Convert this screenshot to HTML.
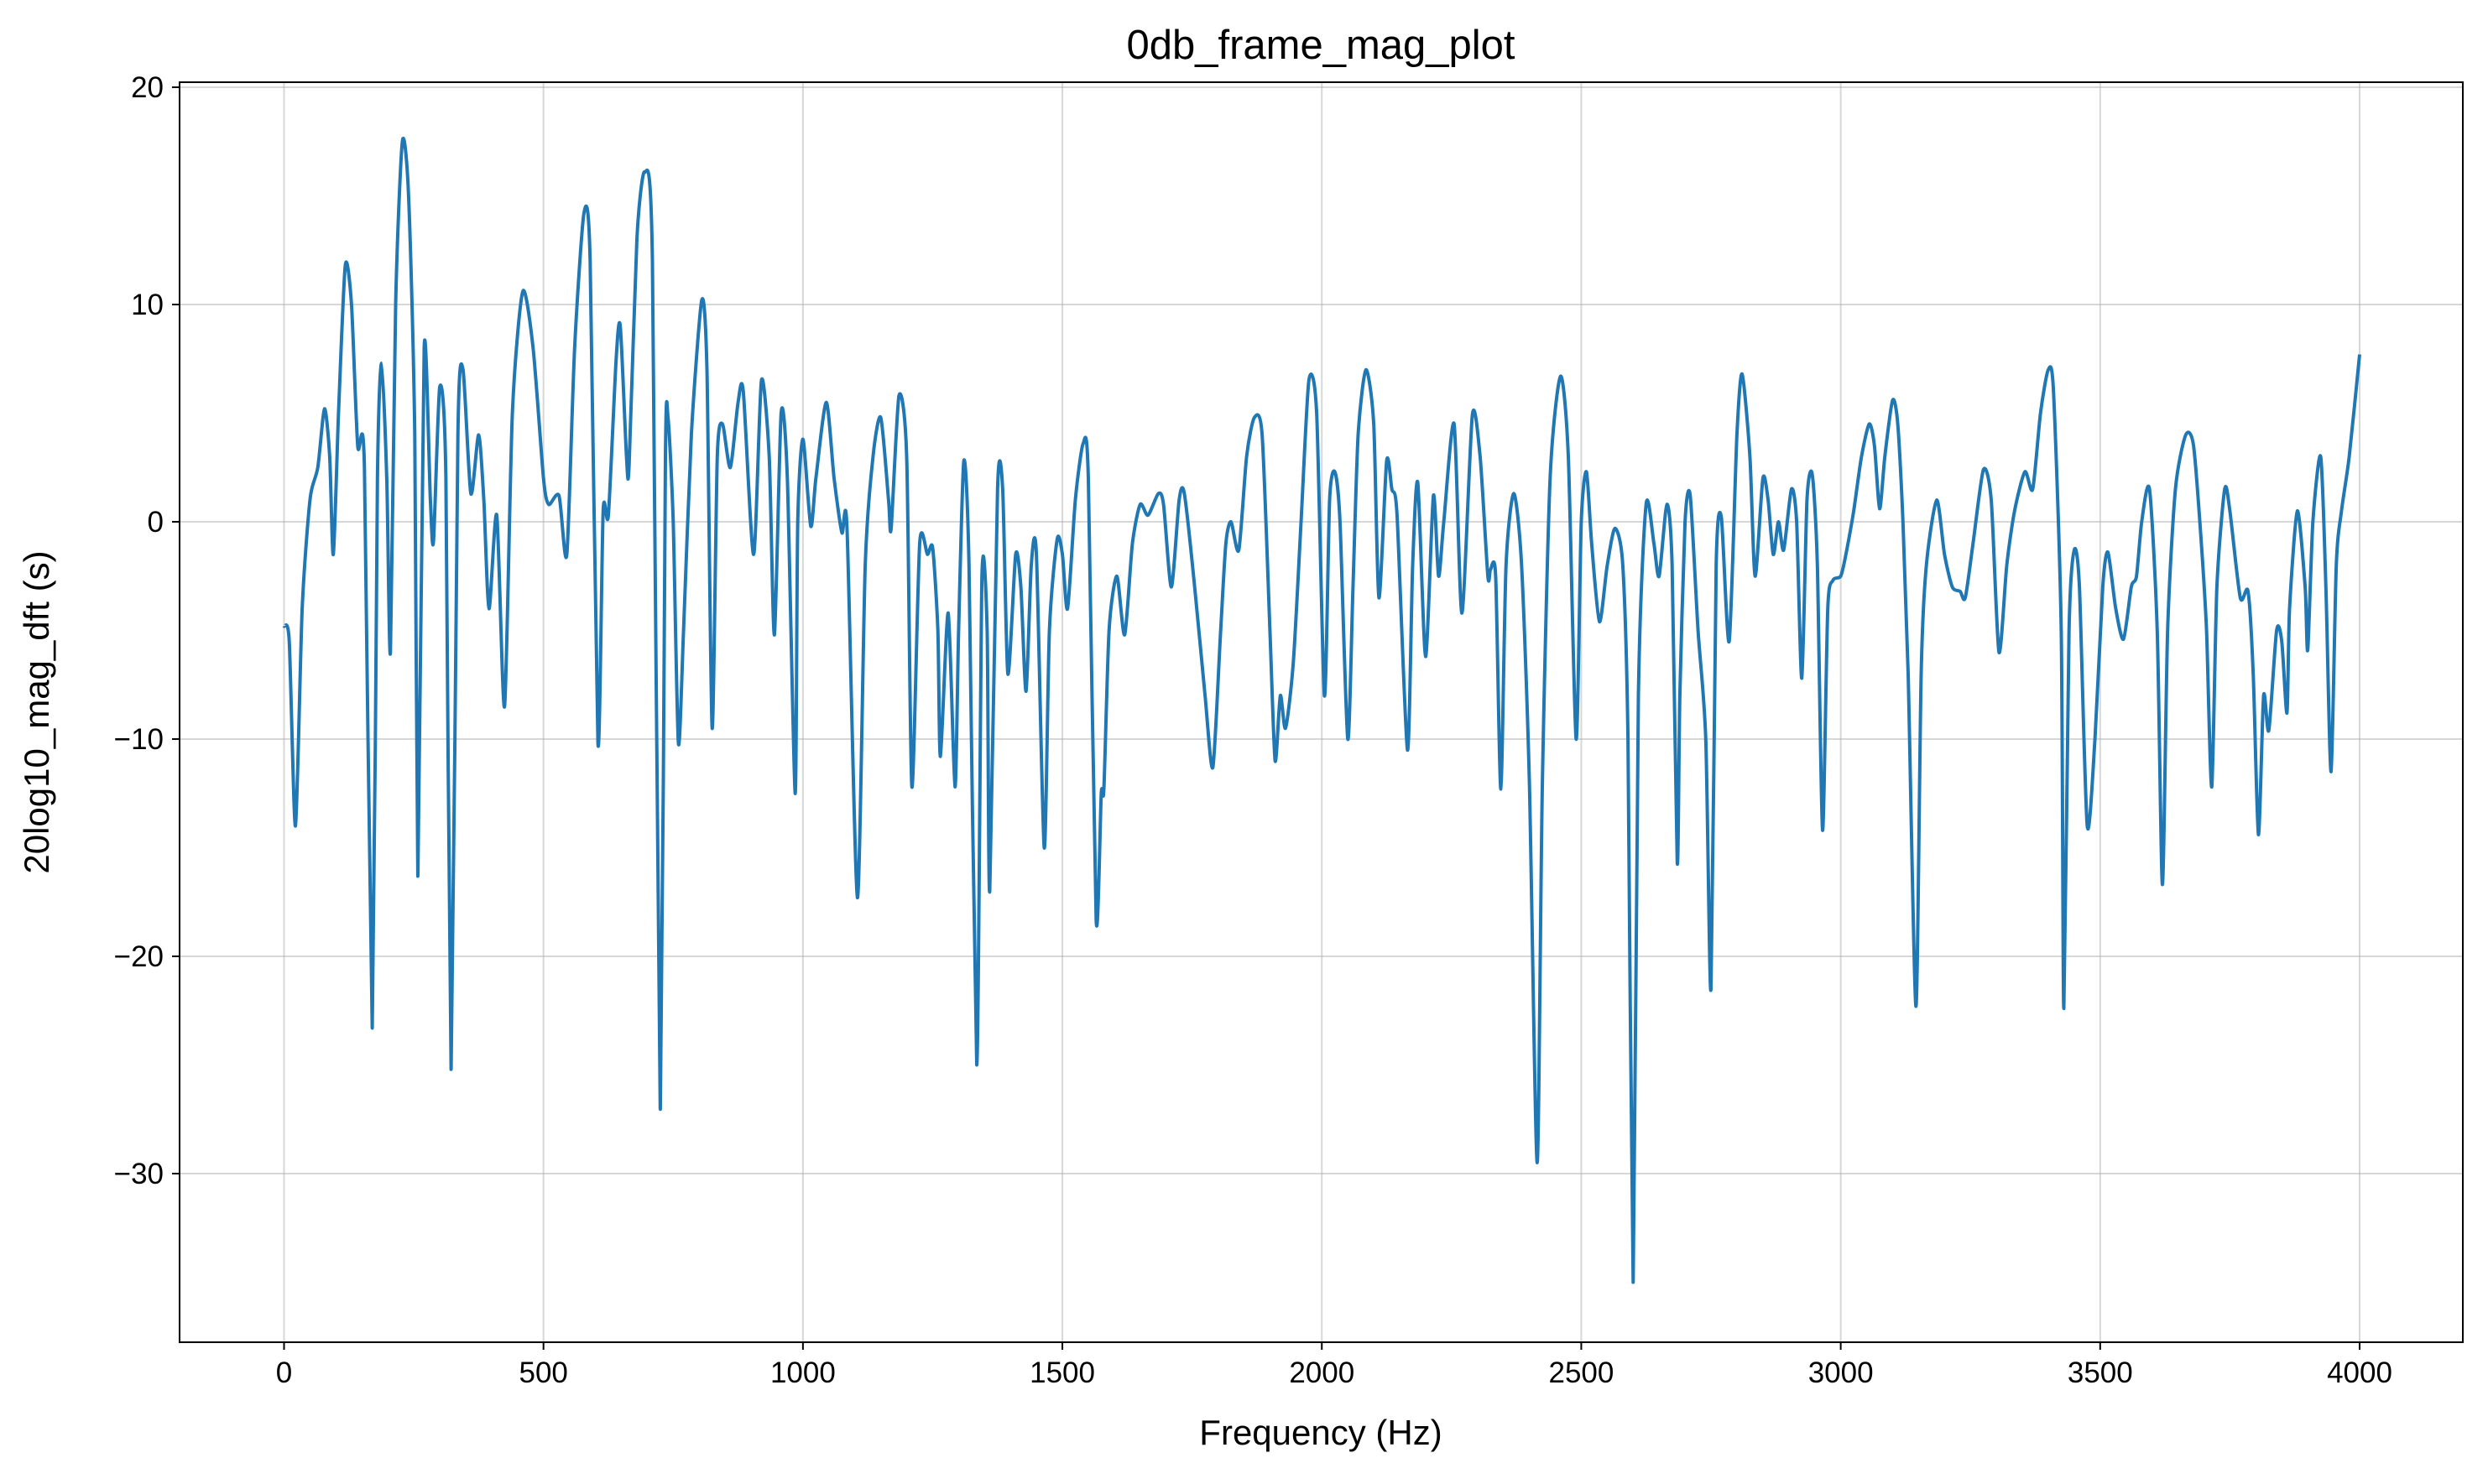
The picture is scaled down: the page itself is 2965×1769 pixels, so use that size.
<!DOCTYPE html>
<html><head><meta charset="utf-8"><style>
html,body{margin:0;padding:0;background:#fff;}
svg text{font-family:"Liberation Sans","DejaVu Sans",sans-serif;fill:#000;}
</style></head><body>
<svg id="chart" width="2965" height="1764" viewBox="0 0 2965 1764" xmlns="http://www.w3.org/2000/svg">
<rect width="2965" height="1764" fill="#fff"/>
<g id="grid"></g>
<g id="series"></g>
<rect x="214" y="98" width="2721" height="1502" fill="none" stroke="#000" stroke-width="2"/>
<g id="ticks"></g>
<text x="1574" y="70" font-size="49" text-anchor="middle">0db_frame_mag_plot</text>
<text x="1574" y="1722" font-size="42" text-anchor="middle">Frequency (Hz)</text>
<text x="0" y="0" font-size="42" text-anchor="middle" transform="translate(58,849) rotate(-90)">20log10_mag_dft (s)</text>
</svg>
<script>
const xTicks=[0,500,1000,1500,2000,2500,3000,3500,4000];
const yTicks=[20,10,0,-10,-20,-30];
const freqs=[0,10,22,35,50,65,78,88,95,105,118,130,142,155,170,180,188,198,205,215,228,240,252,258,270,282,288,300,312,322,335,345,360,375,385,395,410,425,440,460,480,500,510,530,545,560,578,590,605,615,625,640,648,660,665,680,695,710,725,735,740,750,760,770,785,805,815,825,835,845,860,875,885,905,920,935,945,958,970,985,990,1000,1015,1025,1045,1060,1075,1085,1105,1120,1135,1150,1165,1170,1185,1200,1210,1225,1240,1250,1260,1265,1280,1293,1300,1310,1320,1335,1345,1355,1360,1375,1385,1395,1410,1420,1430,1440,1450,1465,1475,1490,1500,1510,1525,1540,1550,1565,1575,1580,1590,1605,1620,1635,1650,1665,1685,1695,1710,1725,1735,1755,1775,1790,1805,1815,1825,1840,1855,1870,1885,1900,1910,1920,1930,1945,1960,1975,1990,2005,2015,2025,2035,2050,2060,2070,2085,2100,2110,2125,2135,2145,2165,2175,2185,2200,2215,2225,2235,2255,2270,2290,2305,2320,2325,2335,2345,2355,2370,2385,2400,2415,2425,2440,2460,2475,2490,2500,2510,2520,2535,2550,2565,2580,2590,2600,2610,2625,2640,2650,2665,2675,2685,2690,2700,2710,2725,2740,2750,2760,2770,2785,2800,2810,2825,2835,2850,2860,2870,2880,2890,2905,2915,2925,2935,2945,2955,2965,2975,2985,3000,3010,3025,3040,3055,3065,3075,3085,3100,3110,3120,3130,3145,3155,3165,3185,3200,3215,3230,3240,3255,3275,3290,3305,3320,3335,3355,3370,3385,3400,3410,3425,3430,3440,3450,3460,3475,3490,3505,3515,3530,3545,3560,3570,3580,3595,3610,3620,3630,3645,3665,3680,3695,3705,3715,3725,3740,3750,3770,3785,3795,3805,3815,3825,3840,3850,3860,3865,3880,3895,3900,3910,3925,3935,3945,3955,3965,3980,4000];
const mags=[-4.8,-5.5,-14,-4,1,2.5,5.2,3,-1.5,5,11.8,10,3.5,2.5,-23.3,2,7.3,2,-6,10,17.5,15,4,-16.3,8,1,-0.9,6.2,2,-25.2,4,7,1.3,4,1,-4,0.3,-8.5,5,10.6,8,2,0.8,1.2,-1.5,8,14.2,12,-10.2,0.5,0.3,7.5,9,3,2.6,13,16.1,12,-27,3,4.8,0,-10.2,-5,4,10.2,7,-9.5,3,4.5,2.5,5.5,6,-1.5,6.5,3,-5.2,5,2,-12.5,0,3.8,-0.2,2,5.5,2,-0.5,-0.3,-17.3,-2,3,4.8,1,-0.3,5.8,3,-12.2,-1,-1.5,-1.2,-5,-10.8,-4.2,-12.2,-5,2.8,-2,-25,-2.5,-5,-17,1.5,1.5,-7,-1.5,-3,-7.8,-2,-1.5,-15,-5,-0.8,-1.5,-4,1,3.6,2,-18.3,-12.5,-12.3,-5,-2.5,-5.2,-1,0.8,0.3,1.3,0.8,-3,1,1.3,-3,-8,-11.3,-5,-1,0,-1.3,3,4.8,4,-5,-11,-8,-9.5,-6.5,0,6.5,5,-8,1,2.3,0,-10,-3,4,7,4.5,-3.5,2.8,1.5,0.3,-10.5,-2,1.8,-6.2,1.2,-2.5,0,4.5,-4.2,4.9,3,-2.5,-2.2,-2.5,-12.3,-2,1.3,-2,-12,-29.5,-12,2,6.7,3,-10,0,2.3,-1,-4.6,-2,-0.3,-2,-10,-35,-8,0.8,-1,-2.5,0.8,-2,-15.7,-8,0,1.2,-5,-10,-21.5,-2,0.2,-5.5,4,6.8,3,-2.5,2,1,-1.5,0,-1.3,1.5,0,-7.2,1,2.2,-2,-14.2,-4,-2.7,-2.5,-1.5,0.5,3,4.5,3.5,0.6,3,5.6,4.5,0,-7,-22.3,-7,-2,1,-1.5,-3,-3.2,-3.5,-1,2.4,1,-6,-2,0.5,2.3,1.5,5,7,6,-5,-22.4,-5,-1.3,-3,-14,-10,-3,-1.4,-4,-5.4,-3,-2.5,0,1.5,-5,-16.7,-5,1.5,4,3.5,-1,-5,-12.2,-3,1.5,0.5,-3.5,-3.2,-7,-14.4,-8,-9.6,-5,-5.5,-8.8,-4,0.5,-3,-5.9,0,3,-3,-11.5,-2,0.5,3,7.7];
const NS="http://www.w3.org/2000/svg";
function xs(f){return 338.5+(f-0)*(2812-338.5)/4000;}
function ys(v){return 622-v*(622-104)/20;}
const grid=document.getElementById('grid'),ticks=document.getElementById('ticks'),series=document.getElementById('series');
function mk(tag,attrs,parent){const e=document.createElementNS(NS,tag);for(const k in attrs)e.setAttribute(k,attrs[k]);parent.appendChild(e);return e;}
xTicks.forEach(t=>{const x=xs(t);
 const g=mk('line',{x1:x,x2:x,y1:98,y2:1600,stroke:'#b0b0b0','stroke-opacity':0.5,'stroke-width':2},grid);
 
 
 const tk=mk('line',{x1:x,x2:x,y1:1600,y2:1609,stroke:'#000','stroke-width':2},ticks);
 
 
 const tx=mk('text',{x:x,y:1648,'font-size':35,'text-anchor':'middle'},ticks);tx.textContent=String(t);
 
 
});
yTicks.forEach(t=>{const y=ys(t);
 const g=mk('line',{x1:214,x2:2935,y1:y,y2:y,stroke:'#b0b0b0','stroke-opacity':0.5,'stroke-width':2},grid);
 
 
 const tk=mk('line',{x1:205,x2:214,y1:y,y2:y,stroke:'#000','stroke-width':2},ticks);
 
 
 const tx=mk('text',{x:195,y:y+12,'font-size':35,'text-anchor':'end'},ticks);tx.textContent=(t<0?'\u2212'+(-t):String(t));
 
 
});
const P=freqs.map((f,i)=>[xs(f),ys(mags[i])]);
let d='M'+P[0][0]+','+P[0][1];
for(let i=0;i<P.length-1;i++){const p0=P[Math.max(0,i-1)],p1=P[i],p2=P[i+1],p3=P[Math.min(P.length-1,i+2)];
 let c1=[p1[0]+(p2[0]-p0[0])/8,p1[1]+(p2[1]-p0[1])/8],c2=[p2[0]-(p3[0]-p1[0])/8,p2[1]-(p3[1]-p1[1])/8];
 c1[0]=Math.min(Math.max(c1[0],p1[0]),p2[0]);c2[0]=Math.min(Math.max(c2[0],p1[0]),p2[0]);
 d+=' C'+c1[0].toFixed(1)+','+c1[1].toFixed(1)+' '+c2[0].toFixed(1)+','+c2[1].toFixed(1)+' '+p2[0].toFixed(1)+','+p2[1].toFixed(1);}
const line=mk('path',{d:d,fill:'none',stroke:'#1f77b4','stroke-width':4,'stroke-linejoin':'round'},series);


</script>
</body></html>
